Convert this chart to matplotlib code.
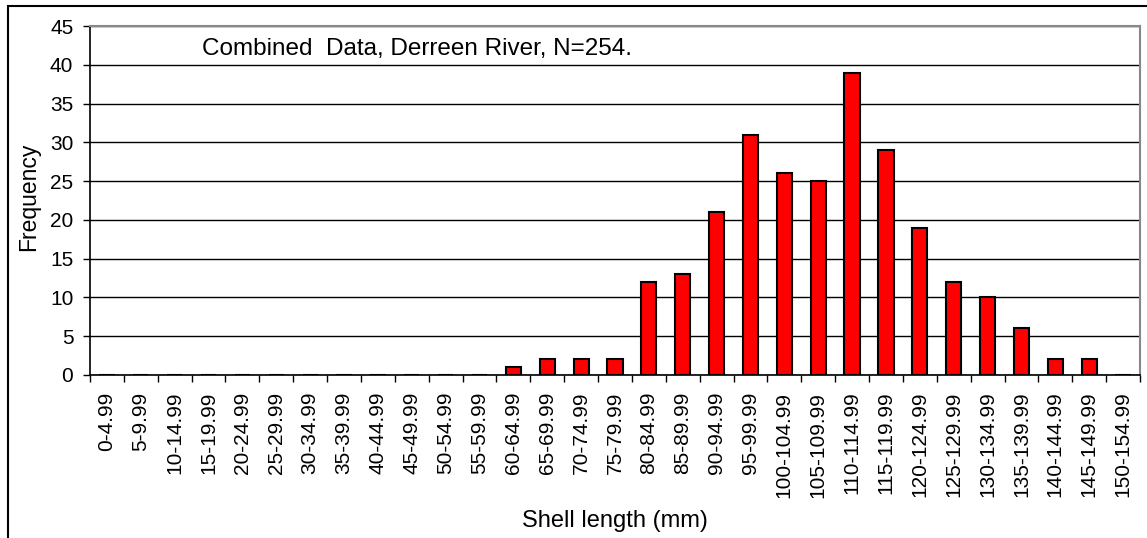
import matplotlib
matplotlib.use("Agg")
import matplotlib.pyplot as plt
from matplotlib.patches import Rectangle

plt.rcParams['font.family'] = ['Liberation Sans', 'DejaVu Sans']

# shell length classes (mm) and their counts
bins = ["0-4.99", "5-9.99", "10-14.99", "15-19.99", "20-24.99", "25-29.99",
        "30-34.99", "35-39.99", "40-44.99", "45-49.99", "50-54.99", "55-59.99",
        "60-64.99", "65-69.99", "70-74.99", "75-79.99", "80-84.99", "85-89.99",
        "90-94.99", "95-99.99", "100-104.99", "105-109.99", "110-114.99",
        "115-119.99", "120-124.99", "125-129.99", "130-134.99", "135-139.99",
        "140-144.99", "145-149.99", "150-154.99"]
freq = [0, 0, 0, 0, 0, 0, 0, 0, 0, 0, 0, 0,
        1, 2, 2, 2, 12, 13, 21, 31, 26, 25, 39, 29, 19, 12, 10, 6, 2, 2, 0]
yticks = [0, 5, 10, 15, 20, 25, 30, 35, 40, 45]

W, H = 1147, 538
fig = plt.figure(figsize=(W / 100, H / 100), dpi=100)
ax = fig.add_axes([90 / W, 1 - 375 / H, 1050 / W, 349 / H])

# outer chart border (cut off at right and bottom)
fig.patches.append(Rectangle((8 / W, -0.1), 1.2, 1 - 6 / H + 0.1,
                             transform=fig.transFigure, fill=False,
                             edgecolor='black', linewidth=1.5))

x = range(len(bins))
ax.bar(x, freq, width=0.45, color='#ff0000', edgecolor='black',
       linewidth=1.5, zorder=3)

ax.set_xlim(-0.5, len(bins) - 0.5)
ax.set_ylim(0, 45)
ax.set_yticks(yticks)
ax.yaxis.grid(True, color='black', linewidth=1, zorder=0)

ax.set_xticks(list(x))
ax.set_xticklabels(bins, rotation=90)
ax.set_xticks([i - 0.5 for i in range(len(bins) + 1)], minor=True)
ax.tick_params(axis='x', which='major', length=0, pad=12, labelsize=15)
ax.tick_params(axis='x', which='minor', length=5, width=1)
ax.tick_params(axis='y', length=5, width=1, pad=7, labelsize=15)

for side in ['left', 'bottom']:
    ax.spines[side].set_color('black')
    ax.spines[side].set_linewidth(1.2)
for side in ['top', 'right']:
    ax.spines[side].set_color('#888888')
    ax.spines[side].set_linewidth(1.5)

fig.text(28.5 / W, 1 - 197 / H, 'Frequency', rotation=90,
         ha='center', va='center', fontsize=16.5)
fig.text(615 / W, 1 - 527 / H, 'Shell length (mm)',
         ha='center', va='baseline', fontsize=17)

ax.text(202 / W, 1 - 55 / H, 'Combined  Data, Derreen River, N=254.',
        transform=fig.transFigure, fontsize=17.5, va='baseline', ha='left')

fig.savefig('out.png', dpi=100)
